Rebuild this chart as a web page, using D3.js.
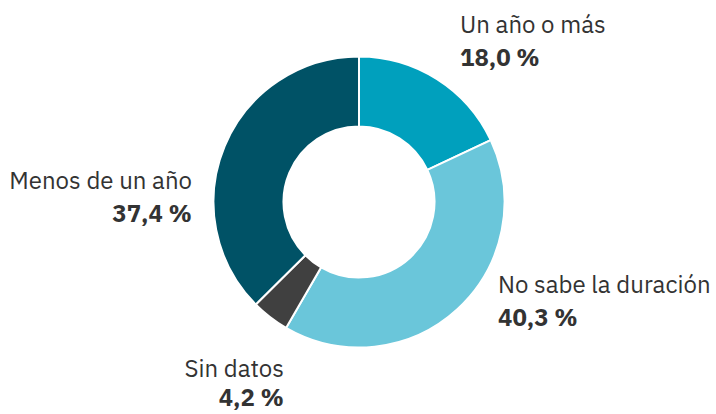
<!DOCTYPE html>
<html><head><meta charset="utf-8">
<script src="https://cdn.jsdelivr.net/npm/d3@7"></script>
<style>body{margin:0;background:#fff}svg{display:block}</style>
</head><body>
<svg id="c" width="716" height="414"></svg>
<script>
const categories = ["Un año o más", "No sabe la duración", "Sin datos", "Menos de un año"];
const values = [18.0, 40.3, 4.2, 37.4];
const valueLabels = ["18,0 %", "40,3 %", "4,2 %", "37,4 %"];
const colors = ["#00a0bd", "#6ac6da", "#404040", "#005266"];

const svg = d3.select("#c");
const cx = 359, cy = 202, rOut = 145.5, rIn = 75.5;
const g = svg.append("g").attr("transform", `translate(${cx},${cy})`);
const pie = d3.pie().sort(null).value(d => d);
const arcs = pie(values);
const arc = d3.arc().innerRadius(rIn).outerRadius(rOut);
g.selectAll("path").data(arcs).enter().append("path")
  .attr("d", arc).attr("fill", (d, i) => colors[i])
  .attr("stroke", "#fff").attr("stroke-width", 2);

const labelPos = [
  {x: 460, y: 33, gap: 33, anchor: "start"},
  {x: 498, y: 293, gap: 33, anchor: "start"},
  {x: 284, y: 377, gap: 29, anchor: "end"},
  {x: 192, y: 189, gap: 33, anchor: "end"}
];
const font = "'IBM Plex Sans', 'Noto Sans', sans-serif";
categories.forEach((c, i) => {
  const p = labelPos[i];
  const t = svg.append("text").attr("x", p.x).attr("y", p.y)
    .attr("text-anchor", p.anchor).attr("font-family", font)
    .attr("font-size", 24).attr("fill", "#333");
  t.append("tspan").text(c);
  t.append("tspan").attr("x", p.x).attr("dy", p.gap).attr("font-weight", "bold").text(valueLabels[i]);
});
</script>
</body></html>
